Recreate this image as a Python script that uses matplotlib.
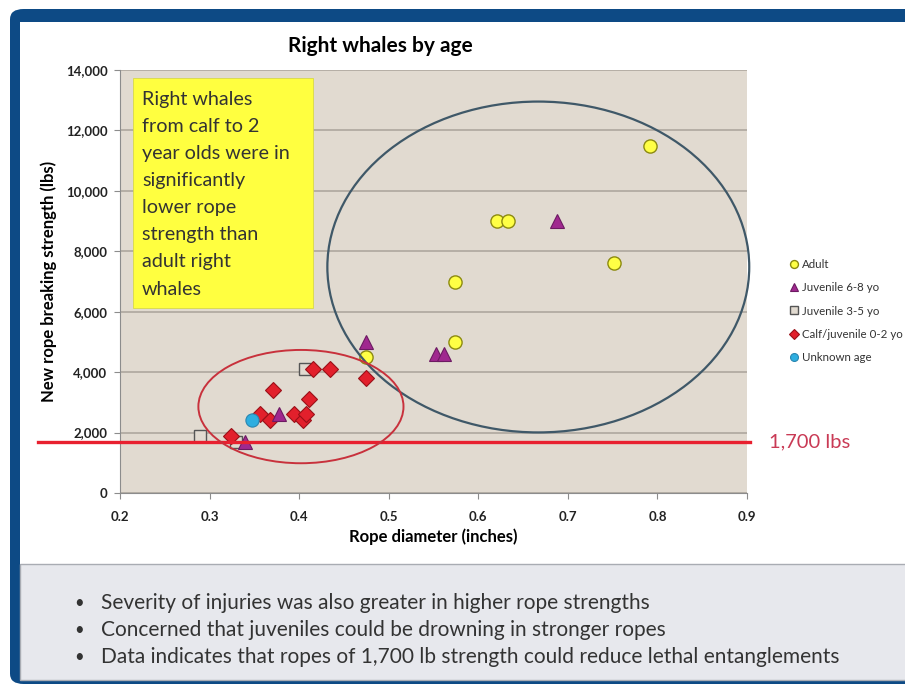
import numpy as np
import matplotlib.pyplot as plt
from matplotlib.patches import Ellipse, Rectangle, FancyBboxPatch

plt.rcParams['font.family'] = ['Lato', 'DejaVu Sans']

# data (rope diameter in inches, breaking strength in lbs)
adult_x = [0.475, 0.574, 0.574, 0.621, 0.633, 0.752, 0.792]
adult_y = [4500, 5000, 7000, 9000, 9000, 7600, 11500]
juv68_x = [0.340, 0.377, 0.475, 0.553, 0.562, 0.688]
juv68_y = [1700, 2600, 5000, 4600, 4600, 9000]
juv35_x = [0.289, 0.330, 0.407]
juv35_y = [1900, 1700, 4100]
calf_x = [0.324, 0.356, 0.368, 0.371, 0.394, 0.404, 0.408, 0.411, 0.416, 0.435, 0.475]
calf_y = [1900, 2600, 2400, 3400, 2600, 2400, 2600, 3100, 4100, 4100, 3800]
unknown_x = [0.347]
unknown_y = [2400]

threshold = 1700
x_ticks = [0.2, 0.3, 0.4, 0.5, 0.6, 0.7, 0.8, 0.9]
y_ticks = [0, 2000, 4000, 6000, 8000, 10000, 12000, 14000]

note = ("Right whales\nfrom calf to 2\nyear olds were in\nsignificantly\n"
        "lower rope\nstrength than\nadult right\nwhales")
bullets = ["Severity of injuries was also greater in higher rope strengths",
           "Concerned that juveniles could be drowning in stronger ropes",
           "Data indicates that ropes of 1,700 lb strength could reduce lethal entanglements"]

W, H = 905, 684
fig = plt.figure(figsize=(W / 100, H / 100), dpi=100)


def fx(px):
    return px / W


def fy(py):
    return 1 - py / H


# slide frame
blue = '#0d4a85'
fig.patches.append(FancyBboxPatch((fx(10), 0), 1.2, fy(9), boxstyle='round,pad=0,rounding_size=0.015',
                                  transform=fig.transFigure, fc=blue, ec='none', zorder=-3))
fig.patches.append(Rectangle((fx(20), fy(564)), 1, fy(22) - fy(564), transform=fig.transFigure,
                             fc='white', ec='none', zorder=-2))
fig.patches.append(Rectangle((fx(20), fy(680)), 1, fy(564) - fy(680), transform=fig.transFigure,
                             fc='#e7e8ed', ec='#a9acb3', lw=1, zorder=-2))

ax = fig.add_axes([fx(120), fy(493), fx(747) - fx(120), fy(70) - fy(493)])
ax.set_zorder(1)
ax.set_facecolor('#e1dad0')
ax.set_xlim(0.2, 0.9)
ax.set_ylim(0, 14000)
ax.set_xticks(x_ticks)
ax.set_yticks(y_ticks)
ax.set_xticklabels([f'{v:.1f}' for v in x_ticks], fontsize=9.5, fontweight='bold', color='#222222')
ax.set_yticklabels([f'{v:,}' for v in y_ticks], fontsize=9.5, fontweight='bold', color='#222222')
ax.yaxis.grid(True, color='#aaa39a', lw=1.1)
ax.set_axisbelow(True)
for s in ['top', 'right']:
    ax.spines[s].set_visible(False)
for s in ['left', 'bottom']:
    ax.spines[s].set_color('#8c8c8c')
ax.tick_params(axis='both', colors='#8c8c8c', length=4, labelcolor='#222222')
ax.tick_params(axis='x', pad=9)
ax.tick_params(axis='y', pad=5)

ax.set_xlabel('Rope diameter (inches)', fontsize=12, fontweight='bold', labelpad=4)
ax.set_ylabel('New rope breaking strength (lbs)', fontsize=12, fontweight='bold', labelpad=6)
ax.set_title('Right whales by age', fontsize=15, fontweight='bold', pad=13, x=0.415)

ax.plot(juv35_x, juv35_y, 's', ms=8.5, mfc='#e1dad0', mec='#555555', mew=1,
        label='Juvenile 3-5 yo', zorder=3)
ax.plot(calf_x, calf_y, 'D', ms=8, mfc='#e2202c', mec='#9a1018', mew=0.8,
        label='Calf/juvenile 0-2 yo', zorder=4)
ax.plot(juv68_x, juv68_y, '^', ms=10, mfc='#a0288f', mec='#6d1a62', mew=0.8,
        label='Juvenile 6-8 yo', zorder=5)
ax.plot(adult_x, adult_y, 'o', ms=9.5, mfc='#ffff45', mec='#8c8a10', mew=1,
        label='Adult', zorder=6)
ax.plot(unknown_x, unknown_y, 'o', ms=9.5, mfc='#2eaee0', mec='#2a86b0', mew=0.8,
        label='Unknown age', zorder=6)

# threshold line, running out past the y axis
ax.axhline(threshold, xmin=(38 - 120) / 627, xmax=1.005, color='#e8202f', lw=2.4,
           clip_on=False, zorder=7)
ax.text(1.035, threshold, '1,700 lbs', transform=ax.get_yaxis_transform(), color='#c93a55',
        fontsize=14.5, va='center', ha='left')

# highlight ellipses
ax.add_patch(Ellipse((0.667, 7480), 0.471, 10950, fill=False, ec='#3f5868', lw=1.6,
                     clip_on=False, zorder=8))
ax.add_patch(Ellipse((0.402, 2860), 0.229, 3750, fill=False, ec='#c8313c', lw=1.4,
                     clip_on=False, zorder=8))

# yellow note
fig.patches.append(Rectangle((fx(133), fy(308)), fx(313) - fx(133), fy(78) - fy(308),
                             transform=fig.transFigure, fc='#ffff40', ec='#d8d84a', lw=0.6, zorder=2))
fig.text(fx(142), fy(91), note, fontsize=14.2, color='#333333', va='top', ha='left',
         linespacing=1.72, zorder=3)

# legend
handles, labels = ax.get_legend_handles_labels()
order = [labels.index(n) for n in ['Adult', 'Juvenile 6-8 yo', 'Juvenile 3-5 yo',
                                   'Calf/juvenile 0-2 yo', 'Unknown age']]
leg = fig.legend([handles[i] for i in order], [labels[i] for i in order],
                 loc='upper left', bbox_to_anchor=(fx(785), fy(254)), frameon=False,
                 fontsize=8.3, markerscale=0.6, handlelength=0.8, handletextpad=0.3,
                 labelspacing=1.08, borderaxespad=0)
for t in leg.get_texts():
    t.set_color('#333333')

# bullet points
for i, line in enumerate(bullets):
    y = fy(603 + i * 27)
    fig.text(fx(74), y, '\u2022', fontsize=12, color='#333333', va='center')
    fig.text(fx(101), y, line, fontsize=15, color='#333333', va='center')

fig.savefig('out.png', dpi=100)
